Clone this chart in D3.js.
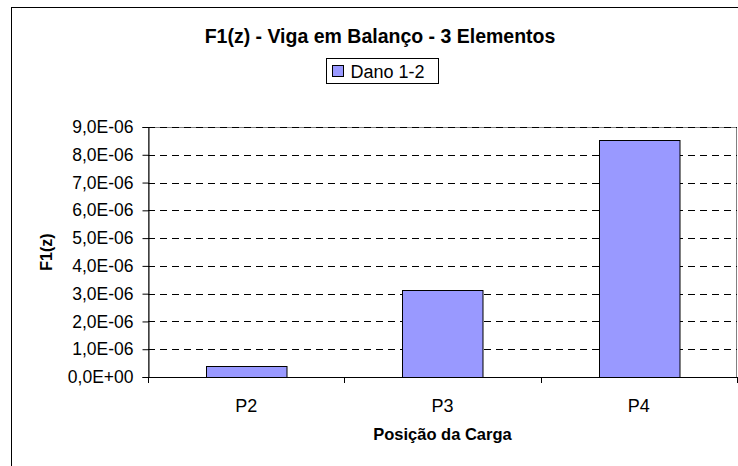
<!DOCTYPE html>
<html>
<head>
<meta charset="utf-8">
<script src="https://cdn.jsdelivr.net/npm/d3@7"></script>
<style>
  body { margin: 0; background: #fff; }
  svg { display: block; font-family: Arial, "Liberation Sans", sans-serif; }
</style>
</head>
<body>
<svg id="chart" width="738" height="466"></svg>
<script>
// data
var categories = ["P2", "P3", "P4"];
var values = [3.9e-7, 3.13e-6, 8.53e-6];
var seriesName = "Dano 1-2";
var yTicks = [0, 1e-6, 2e-6, 3e-6, 4e-6, 5e-6, 6e-6, 7e-6, 8e-6, 9e-6];

var svg = d3.select("#chart");

// plot area
var plotLeft = 148, plotRight = 737, plotTop = 127, plotBottom = 377;

// chart area border (runs off the right / bottom of the picture)
svg.append("rect")
    .attr("x", 11.5).attr("y", 7.5)
    .attr("width", 780).attr("height", 500)
    .attr("fill", "white")
    .attr("stroke", "black")
    .attr("stroke-width", 1);

var x = d3.scaleBand()
    .domain(categories)
    .range([plotLeft, plotRight])
    .paddingInner(0.59)
    .paddingOuter(0.295);

var y = d3.scaleLinear()
    .domain([0, 9e-6])
    .range([plotBottom, plotTop]);

// format like 9,0E-06
function sci(v) {
    if (v == 0) return "0,0E+00";
    var e = Math.floor(Math.log10(v) + 1e-9);
    var m = v / Math.pow(10, e);
    var es = (e < 0 ? "-" : "+") + String(Math.abs(e)).padStart(2, "0");
    return m.toFixed(1).replace(".", ",") + "E" + es;
}

// plot area border
svg.append("rect")
    .attr("x", plotLeft + 0.5).attr("y", plotTop + 0.5)
    .attr("width", plotRight - plotLeft - 1).attr("height", plotBottom - plotTop)
    .attr("fill", "white")
    .attr("stroke", "#808080");

// gridlines
svg.append("g")
    .selectAll("line")
    .data(yTicks.filter(d => d > 0))
    .join("line")
        .attr("x1", plotLeft).attr("x2", plotRight)
        .attr("y1", d => Math.round(y(d)) + 0.5)
        .attr("y2", d => Math.round(y(d)) + 0.5)
        .attr("stroke", "black")
        .attr("stroke-dasharray", "7,5");

// bars
svg.append("g")
    .selectAll("rect")
    .data(values)
    .join("rect")
        .attr("x", (d, i) => Math.round(x(categories[i])) + 0.5)
        .attr("y", d => Math.round(y(d)) + 0.5)
        .attr("width", x.bandwidth())
        .attr("height", d => Math.round(y(0)) - Math.round(y(d)))
        .attr("fill", "#9999ff")
        .attr("stroke", "black")
        .attr("stroke-width", 1);

// y axis
var yAxis = d3.axisLeft(y)
    .tickValues(yTicks)
    .tickFormat(sci)
    .tickSize(6)
    .tickPadding(9);

var gy = svg.append("g")
    .attr("transform", `translate(${plotLeft + 0.5},0)`)
    .call(yAxis);
gy.select(".domain").attr("stroke", "black");
gy.selectAll(".tick line").attr("stroke", "black");
gy.selectAll(".tick text")
    .attr("font-size", 17.5)
    .attr("fill", "black")
    .attr("font-family", "Arial, 'Liberation Sans', sans-serif");

// x axis line and ticks at category boundaries
var bounds = d3.range(categories.length + 1).map(i => plotLeft + i * x.step());
svg.append("line")
    .attr("x1", plotLeft).attr("x2", plotRight)
    .attr("y1", plotBottom + 0.5).attr("y2", plotBottom + 0.5)
    .attr("stroke", "black");
svg.append("g")
    .selectAll("line")
    .data(bounds)
    .join("line")
        .attr("x1", d => Math.round(d) + 0.5).attr("x2", d => Math.round(d) + 0.5)
        .attr("y1", plotBottom).attr("y2", plotBottom + 6)
        .attr("stroke", "black");

svg.append("g")
    .selectAll("text")
    .data(categories)
    .join("text")
        .attr("x", d => x(d) + x.bandwidth() / 2)
        .attr("y", 412)
        .attr("text-anchor", "middle")
        .attr("font-size", 18)
        .text(d => d);

// titles
svg.append("text")
    .attr("x", 380)
    .attr("y", 43)
    .attr("text-anchor", "middle")
    .attr("font-size", 19.5)
    .attr("font-weight", "bold")
    .text("F1(z) - Viga em Balanço - 3 Elementos");

svg.append("text")
    .attr("x", (plotLeft + plotRight) / 2)
    .attr("y", 440)
    .attr("text-anchor", "middle")
    .attr("font-size", 16.5)
    .attr("font-weight", "bold")
    .text("Posição da Carga");

svg.append("text")
    .attr("transform", "rotate(-90)")
    .attr("x", -252)
    .attr("y", 52)
    .attr("text-anchor", "middle")
    .attr("font-size", 16)
    .attr("font-weight", "bold")
    .text("F1(z)");

// legend
var legend = svg.append("g")
    .attr("transform", "translate(326.5,58.5)");
legend.append("rect")
    .attr("width", 112).attr("height", 25)
    .attr("fill", "white")
    .attr("stroke", "black");
legend.append("rect")
    .attr("x", 6).attr("y", 7)
    .attr("width", 11).attr("height", 11)
    .attr("fill", "#9999ff")
    .attr("stroke", "black");
legend.append("text")
    .attr("x", 24)
    .attr("y", 19)
    .attr("font-size", 18)
    .text(seriesName);
</script>
</body>
</html>
